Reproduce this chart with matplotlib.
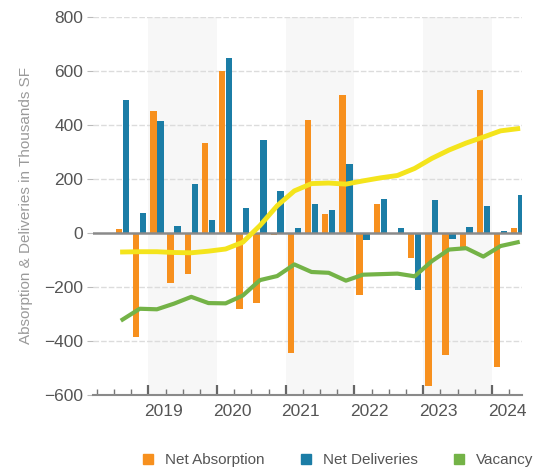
import numpy as np
import matplotlib.pyplot as plt
from matplotlib.lines import Line2D
import matplotlib.transforms as mtransforms

plt.rcParams['font.family'] = ['Liberation Sans', 'DejaVu Sans']

# quarterly figures, 2018 Q3 .. 2024 Q2
quarters = ['2018 Q3', '2018 Q4',
            '2019 Q1', '2019 Q2', '2019 Q3', '2019 Q4',
            '2020 Q1', '2020 Q2', '2020 Q3', '2020 Q4',
            '2021 Q1', '2021 Q2', '2021 Q3', '2021 Q4',
            '2022 Q1', '2022 Q2', '2022 Q3', '2022 Q4',
            '2023 Q1', '2023 Q2', '2023 Q3', '2023 Q4',
            '2024 Q1', '2024 Q2']
net_absorption = [15, -385, 450, -185, -154, 332, 600, -283, -258, -8,
                  -446, 418, 70, 511, -231, 106, 0, -95, -565, -453,
                  -55, 528, -498, 17]
net_deliveries = [490, 75, 414, 24, 181, 49, 645, 92, 342, 153,
                  17, 106, 86, 256, -25, 125, 18, -212, 120, -22,
                  21, 98, 8, 139]
vacancy = [-321, -281, -283, -262, -237, -260, -261, -232, -175, -160,
           -117, -145, -148, -177, -155, -153, -151, -161, -105, -62,
           -57, -88, -49, -35]
rent_line = [-71, -70, -70, -73, -74, -68, -60, -35, 27, 100,
             155, 182, 184, 180, 192, 203, 212, 238, 275, 306,
             332, 354, 377, 385]
years = [2019, 2020, 2021, 2022, 2023, 2024]

orange = '#F7901E'
blue = '#1B7DA6'
green = '#74B347'
yellow = '#F4E41C'
text_gray = '#555555'

x = np.arange(len(quarters))
year_start = 1.5 + 4 * np.arange(len(years))

fig = plt.figure(figsize=(5.44, 4.70), dpi=100)
ax = fig.add_axes([93 / 544, 1 - 395 / 470, (522 - 93) / 544, (395 - 16.5) / 470])

# alternating year bands
for i, ys in enumerate(year_start):
    if i % 2 == 0:
        ax.axvspan(ys, ys + 4, color='#f7f7f7', zorder=0, lw=0)

ax.set_ylim(-600, 800)
ax.set_xlim(-1.72, 23.25)
ax.set_yticks(range(-600, 801, 200))
for v in range(-400, 801, 200):
    if v != 0:
        ax.axhline(v, color='#dcdcdc', lw=1, ls=(0, (4, 1.5)), zorder=1)

w = 0.37
ax.bar(x - 0.2, net_absorption, width=w, color=orange, zorder=2)
ax.bar(x + 0.2, net_deliveries, width=w, color=blue, zorder=2)
ax.axhline(0, color='#8a8a8a', lw=1.8, zorder=3)

ax.plot(x, rent_line, color=yellow, lw=3.5, zorder=4, solid_joinstyle='round')
ax.plot(x, vacancy, color=green, lw=3.0, zorder=4, solid_joinstyle='round')

for s in ['top', 'right', 'left']:
    ax.spines[s].set_visible(False)
ax.spines['bottom'].set_color('#8a8a8a')
ax.spines['bottom'].set_linewidth(1.5)

ax.set_xticks(year_start)
ax.set_xticks(np.arange(-1.5, 23.5, 1), minor=True)
ax.tick_params(axis='x', which='major', direction='in', length=7, width=1.6,
               color='#666666', labelbottom=False)
ax.tick_params(axis='x', which='minor', direction='in', length=4, width=1,
               color='#777777')
ax.tick_params(axis='y', length=4, width=0.8, color='#bbbbbb', pad=3,
               labelsize=12.5, labelcolor=text_gray)

trans = mtransforms.blended_transform_factory(ax.transData, ax.transAxes)
for ys, yr in zip(year_start, years):
    ax.text(ys + 0.87, -0.025, str(yr), transform=trans, ha='center', va='top',
            fontsize=12.5, color=text_gray)

ax.set_ylabel('Absorption & Deliveries in Thousands SF', fontsize=11,
              color='#9a9a9a', labelpad=8)

handles = [Line2D([], [], marker='s', ls='none', ms=7.5, color=c)
           for c in (orange, blue, green)]
fig.legend(handles, ['Net Absorption', 'Net Deliveries', 'Vacancy'],
           loc='center', bbox_to_anchor=(337 / 544, 1 - 460 / 470), ncol=3,
           frameon=False, fontsize=11, labelcolor=text_gray,
           handletextpad=0.6, columnspacing=2.2, handlelength=1.0)

fig.savefig('out.png', dpi=100)
